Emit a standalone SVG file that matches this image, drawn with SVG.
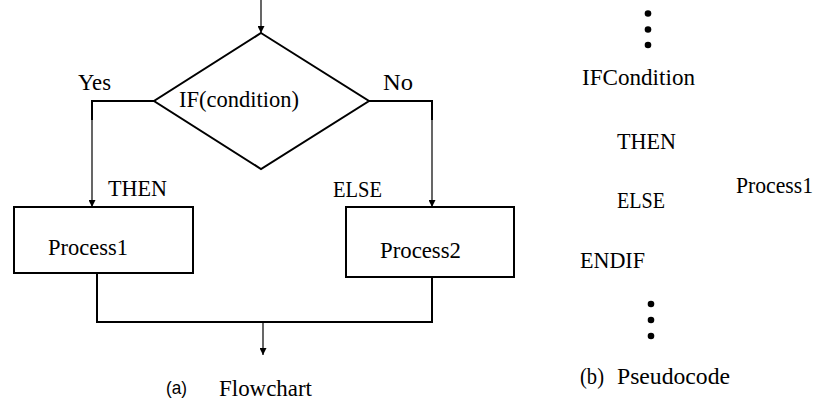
<svg xmlns="http://www.w3.org/2000/svg" width="819" height="407" viewBox="0 0 819 407">
<style>
.t{font-family:'Liberation Serif','Times New Roman',serif;font-size:22.5px;fill:#000}
.s{font-family:'Liberation Sans',Arial,sans-serif;font-size:19px;fill:#000}
.shape{fill:#fff;stroke:#000;stroke-width:2}
.thin{fill:none;stroke:#000;stroke-width:1.2}
.thick{fill:none;stroke:#000;stroke-width:2}
</style>
<defs>
<marker id="ah" viewBox="0 0 8 8" refX="8" refY="4" markerWidth="7" markerHeight="7" markerUnits="userSpaceOnUse" orient="auto">
<path d="M0,0 L8,4 L0,8 Z" fill="#000"/>
</marker>
</defs>
<rect width="819" height="407" fill="#fff"/>
<g id="connectors">
<line class="thin" x1="261" y1="0" x2="261" y2="33" marker-end="url(#ah)"/>
<polyline class="thick" points="154,101 92,101 92,120"/>
<line class="thin" x1="92" y1="120" x2="92" y2="207" marker-end="url(#ah)"/>
<polyline class="thick" points="369,101 432,101 432,120"/>
<line class="thin" x1="432" y1="120" x2="432" y2="207" marker-end="url(#ah)"/>
<polyline class="thick" points="97,273 97,322 432,322 432,277"/>
<line class="thin" x1="263" y1="322" x2="263" y2="355" marker-end="url(#ah)"/>
</g>
<g id="decision">
<polygon class="shape" points="261,33 369,101 261,169 154,101"/>
<text class="t" x="179" y="107" textLength="120" lengthAdjust="spacingAndGlyphs">IF(condition)</text>
</g>
<g id="process1">
<rect class="shape" x="14" y="207" width="179" height="66"/>
<text class="t" x="48" y="255" textLength="80" lengthAdjust="spacingAndGlyphs">Process1</text>
</g>
<g id="process2">
<rect class="shape" x="346" y="207" width="168" height="70"/>
<text class="t" x="380" y="258" textLength="81" lengthAdjust="spacingAndGlyphs">Process2</text>
</g>
<g id="labels">
<text class="t" x="78" y="90" textLength="33" lengthAdjust="spacingAndGlyphs">Yes</text>
<text class="t" x="383" y="90" textLength="30" lengthAdjust="spacingAndGlyphs">No</text>
<text class="t" x="108" y="196" textLength="59" lengthAdjust="spacingAndGlyphs">THEN</text>
<text class="t" x="333" y="197" textLength="49" lengthAdjust="spacingAndGlyphs">ELSE</text>
<text class="s" x="166" y="394" textLength="21" lengthAdjust="spacingAndGlyphs">(a)</text>
<text class="t" x="219" y="396" textLength="93" lengthAdjust="spacingAndGlyphs">Flowchart</text>
</g>
<g id="pseudocode">
<circle cx="648" cy="13.5" r="3.3"/>
<circle cx="648" cy="29.5" r="3.3"/>
<circle cx="648" cy="45" r="3.3"/>
<text class="t" x="582" y="85" textLength="113" lengthAdjust="spacingAndGlyphs">IFCondition</text>
<text class="t" x="617" y="149" textLength="59" lengthAdjust="spacingAndGlyphs">THEN</text>
<text class="t" x="736" y="193" textLength="77" lengthAdjust="spacingAndGlyphs">Process1</text>
<text class="t" x="617" y="208" textLength="48" lengthAdjust="spacingAndGlyphs">ELSE</text>
<text class="t" x="580" y="268" textLength="65" lengthAdjust="spacingAndGlyphs">ENDIF</text>
<circle cx="651" cy="304" r="3.3"/>
<circle cx="651" cy="320" r="3.3"/>
<circle cx="651" cy="336" r="3.3"/>
<text class="t" x="580" y="384" textLength="24" lengthAdjust="spacingAndGlyphs">(b)</text>
<text class="t" x="617" y="384" textLength="113" lengthAdjust="spacingAndGlyphs">Pseudocode</text>
</g>
</svg>
